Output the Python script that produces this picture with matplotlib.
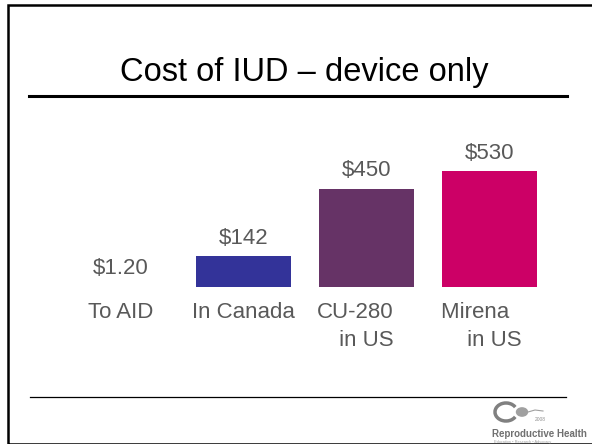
import matplotlib.pyplot as plt
import matplotlib.transforms as mtransforms
from matplotlib.lines import Line2D
from matplotlib.patches import Rectangle, Circle, Arc

plt.rcParams['font.family'] = ['Liberation Sans', 'DejaVu Sans']

# data
categories = ['To AID', 'In Canada', 'CU-280\n in US', 'Mirena  \n in US']
costs = [1.20, 142, 450, 530]
value_labels = ['$1.20', '$142', '$450', '$530']
colors = ['#333399', '#333399', '#663366', '#CC0066']

W, H = 592, 444
fig = plt.figure(figsize=(W / 100, H / 100), dpi=100)

def fx(px):
    return px / W

def fy(py):
    return (H - py) / H

# slide frame
fig.patches.append(Rectangle((fx(8), 0), fx(W + 10) - fx(8), fy(5), transform=fig.transFigure,
                             fill=False, edgecolor='black', linewidth=1.8))

# title and rules
fig.text(fx(304), fy(72), 'Cost of IUD \u2013 device only', ha='center', va='center',
         fontsize=23.5, color='black')
fig.add_artist(Line2D([fx(29), fx(567)], [fy(96), fy(96)], color='black', linewidth=2.2))
fig.add_artist(Line2D([fx(30), fx(566)], [fy(397), fy(397)], color='black', linewidth=0.9))

# chart
ax = fig.add_axes([fx(59), fy(287), fx(551) - fx(59), fy(110) - fy(287)])
x = range(len(costs))
bars = ax.bar(x, costs, width=0.77, color=colors)
for xi, c, lab in zip(x, costs, value_labels):
    ax.annotate(lab, (xi, c), xytext=(0, 18), textcoords='offset pixels',
                ha='center', va='center', fontsize=16, color='#595959')
ax.set_xlim(-0.5, 3.5)
ax.set_ylim(0, 812)
ax.set_xticks(list(x))
ax.set_xticklabels(categories, fontsize=16, color='#595959', multialignment='right',
                   linespacing=1.45)
ax.tick_params(axis='x', length=0, pad=10.5)
ax.set_yticks([])
for s in ax.spines.values():
    s.set_visible(False)

# nudge the two-line labels a little to the left, as on the slide
shifts = [0, 0, -11, -8]
for lbl, dx in zip(ax.get_xticklabels(), shifts):
    lbl.set_transform(lbl.get_transform() + mtransforms.ScaledTranslation(dx / 100, 0, fig.dpi_scale_trans))

# logo
fig.patches.append(Arc((fx(506), fy(412)), 22 / W, 18 / H, theta1=35, theta2=325,
                       transform=fig.transFigure, color='#808080', linewidth=2.5))
fig.patches.append(Circle((fx(522), fy(412)), 5.5 / W, transform=fig.transFigure,
                          color='#a0a0a0'))
fig.add_artist(Line2D([fx(528), fx(535), fx(543)], [fy(412), fy(410), fy(411)],
                      color='#a0a0a0', linewidth=0.8))
fig.text(fx(535), fy(419), '2008', fontsize=3.5, color='#909090', ha='left', va='center')
fig.text(fx(492), fy(434), 'Reproductive Health', fontsize=7, fontweight='bold',
         color='#707070', ha='left', va='center')
fig.text(fx(494), fy(442), 'Education \u2022 Research \u2022 Advocacy', fontsize=2.8,
         color='#a0a0a0', ha='left', va='center')

fig.savefig('out.png', dpi=100)
